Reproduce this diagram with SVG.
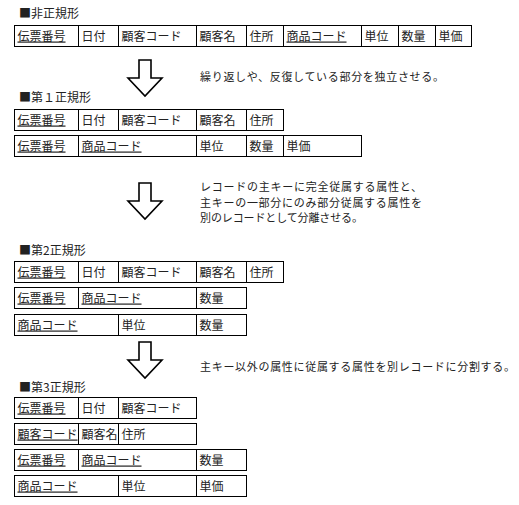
<svg xmlns="http://www.w3.org/2000/svg" width="519" height="505" viewBox="0 0 519 505">
<style>
text{font-family:"Noto Sans CJK JP","Noto Sans",sans-serif;font-size:12px;fill:#222}
.d{font-size:11px}
.u{text-decoration:underline}
.tb rect{fill:#fff;stroke:#000;stroke-width:1}
.tb line{stroke:#000;stroke-width:1}
.ar{fill:#fff;stroke:#000;stroke-width:1.6;stroke-linejoin:miter}
</style>
<rect width="519" height="505" fill="#fff"/>
<defs>
<polygon id="arrow" class="ar" points="-6,0 6,0 6,18 17,18 0,36 -17,18 -6,18"/>
</defs>
<g id="connectors">
<use href="#arrow" x="145" y="60"/>
<use href="#arrow" x="145" y="183"/>
<use href="#arrow" x="145" y="342"/>
</g>
<g id="labels">
<text x="19" y="17.5">■非正規形</text>
<text x="19" y="102">■第１正規形</text>
<text x="19" y="254.5">■第2正規形</text>
<text x="19" y="391.5">■第3正規形</text>
<text class="d" x="200" y="81" textLength="244" lengthAdjust="spacing">繰り返しや、反復している部分を独立させる。</text>
<text class="d" x="200" y="191" textLength="222" lengthAdjust="spacing">レコードの主キーに完全従属する属性と、</text>
<text class="d" x="200" y="206.5" textLength="222" lengthAdjust="spacing">主キーの一部分にのみ部分従属する属性を</text>
<text class="d" x="200" y="222" textLength="163" lengthAdjust="spacing">別のレコードとして分離させる。</text>
<text class="d" x="200" y="371" textLength="315" lengthAdjust="spacing">主キー以外の属性に従属する属性を別レコードに分割する。</text>
</g>
<g id="t0" class="tb">
<rect x="14.5" y="25.5" width="457" height="21"/>
<line x1="78.5" y1="25.5" x2="78.5" y2="46.5"/><line x1="118.5" y1="25.5" x2="118.5" y2="46.5"/><line x1="196.5" y1="25.5" x2="196.5" y2="46.5"/><line x1="246.5" y1="25.5" x2="246.5" y2="46.5"/><line x1="283.5" y1="25.5" x2="283.5" y2="46.5"/><line x1="361.5" y1="25.5" x2="361.5" y2="46.5"/><line x1="398.5" y1="25.5" x2="398.5" y2="46.5"/><line x1="435.5" y1="25.5" x2="435.5" y2="46.5"/>
<text class="u" x="17.5" y="40.5">伝票番号</text><text x="81.5" y="40.5">日付</text><text x="121.5" y="40.5">顧客コード</text><text x="199.5" y="40.5">顧客名</text><text x="249.5" y="40.5">住所</text><text class="u" x="286.5" y="40.5">商品コード</text><text x="364.5" y="40.5">単位</text><text x="401.5" y="40.5">数量</text><text x="438.5" y="40.5">単価</text>
</g>
<g id="t1a" class="tb">
<rect x="14.5" y="109.5" width="269" height="21"/>
<line x1="78.5" y1="109.5" x2="78.5" y2="130.5"/><line x1="118.5" y1="109.5" x2="118.5" y2="130.5"/><line x1="196.5" y1="109.5" x2="196.5" y2="130.5"/><line x1="246.5" y1="109.5" x2="246.5" y2="130.5"/>
<text class="u" x="17.5" y="124.5">伝票番号</text><text x="81.5" y="124.5">日付</text><text x="121.5" y="124.5">顧客コード</text><text x="199.5" y="124.5">顧客名</text><text x="249.5" y="124.5">住所</text>
</g>
<g id="t1b" class="tb">
<rect x="14.5" y="135.5" width="347" height="21"/>
<line x1="78.5" y1="135.5" x2="78.5" y2="156.5"/><line x1="196.5" y1="135.5" x2="196.5" y2="156.5"/><line x1="246.5" y1="135.5" x2="246.5" y2="156.5"/><line x1="283.5" y1="135.5" x2="283.5" y2="156.5"/>
<text class="u" x="17.5" y="150.5">伝票番号</text><text class="u" x="81.5" y="150.5">商品コード</text><text x="199.5" y="150.5">単位</text><text x="249.5" y="150.5">数量</text><text x="286.5" y="150.5">単価</text>
</g>
<g id="t2a" class="tb">
<rect x="14.5" y="261.5" width="269" height="21"/>
<line x1="78.5" y1="261.5" x2="78.5" y2="282.5"/><line x1="118.5" y1="261.5" x2="118.5" y2="282.5"/><line x1="196.5" y1="261.5" x2="196.5" y2="282.5"/><line x1="246.5" y1="261.5" x2="246.5" y2="282.5"/>
<text class="u" x="17.5" y="276.5">伝票番号</text><text x="81.5" y="276.5">日付</text><text x="121.5" y="276.5">顧客コード</text><text x="199.5" y="276.5">顧客名</text><text x="249.5" y="276.5">住所</text>
</g>
<g id="t2b" class="tb">
<rect x="14.5" y="287.5" width="232" height="21"/>
<line x1="78.5" y1="287.5" x2="78.5" y2="308.5"/><line x1="196.5" y1="287.5" x2="196.5" y2="308.5"/>
<text class="u" x="17.5" y="302.5">伝票番号</text><text class="u" x="81.5" y="302.5">商品コード</text><text x="199.5" y="302.5">数量</text>
</g>
<g id="t2c" class="tb">
<rect x="14.5" y="314.5" width="232" height="21"/>
<line x1="118.5" y1="314.5" x2="118.5" y2="335.5"/><line x1="196.5" y1="314.5" x2="196.5" y2="335.5"/>
<text class="u" x="17.5" y="329.5">商品コード</text><text x="121.5" y="329.5">単位</text><text x="199.5" y="329.5">数量</text>
</g>
<g id="t3a" class="tb">
<rect x="14.5" y="397.5" width="182" height="21"/>
<line x1="78.5" y1="397.5" x2="78.5" y2="418.5"/><line x1="118.5" y1="397.5" x2="118.5" y2="418.5"/>
<text class="u" x="17.5" y="412.5">伝票番号</text><text x="81.5" y="412.5">日付</text><text x="121.5" y="412.5">顧客コード</text>
</g>
<g id="t3b" class="tb">
<rect x="14.5" y="423.5" width="182" height="21"/>
<line x1="78.5" y1="423.5" x2="78.5" y2="444.5"/><line x1="118.5" y1="423.5" x2="118.5" y2="444.5"/>
<text class="u" x="17.5" y="438.5">顧客コード</text><text x="81.5" y="438.5">顧客名</text><text x="121.5" y="438.5">住所</text>
</g>
<g id="t3c" class="tb">
<rect x="14.5" y="449.5" width="232" height="21"/>
<line x1="78.5" y1="449.5" x2="78.5" y2="470.5"/><line x1="196.5" y1="449.5" x2="196.5" y2="470.5"/>
<text class="u" x="17.5" y="464.5">伝票番号</text><text class="u" x="81.5" y="464.5">商品コード</text><text x="199.5" y="464.5">数量</text>
</g>
<g id="t3d" class="tb">
<rect x="14.5" y="475.5" width="232" height="21"/>
<line x1="118.5" y1="475.5" x2="118.5" y2="496.5"/><line x1="196.5" y1="475.5" x2="196.5" y2="496.5"/>
<text class="u" x="17.5" y="490.5">商品コード</text><text x="121.5" y="490.5">単位</text><text x="199.5" y="490.5">単価</text>
</g>
</svg>
